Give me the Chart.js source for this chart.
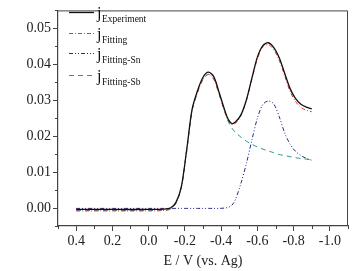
<!DOCTYPE html>
<html><head><meta charset="utf-8">
<script src="https://cdn.jsdelivr.net/npm/chart.js@4/dist/chart.umd.min.js"></script>
<style>html,body{margin:0;padding:0;background:#fff}#wrap{position:relative;width:354px;height:271px}</style>
</head><body><div id="wrap"><canvas id="c" width="354" height="271"></canvas></div>
<script>
const potentials = [0.4, 0.2, 0.0, -0.08, -0.12, -0.15, -0.18, -0.21, -0.24, -0.27, -0.30, -0.33, -0.36, -0.39, -0.42, -0.44, -0.46, -0.48, -0.51, -0.54, -0.57, -0.60, -0.63, -0.66, -0.69, -0.72, -0.75, -0.78, -0.81, -0.84, -0.87, -0.90];
const jExperiment = [-0.0004, -0.0004, -0.0004, -0.0003, 0.0000, 0.0015, 0.0058, 0.0162, 0.0275, 0.0327, 0.0364, 0.0378, 0.0365, 0.0320, 0.0272, 0.0246, 0.0235, 0.0240, 0.0260, 0.0302, 0.0362, 0.0420, 0.0452, 0.0460, 0.0447, 0.0419, 0.0376, 0.0333, 0.0305, 0.0289, 0.0281, 0.0276];
const jFitting = [-0.0008, -0.0008, -0.0008, -0.0007, -0.0003, 0.0013, 0.0056, 0.0160, 0.0272, 0.0322, 0.0358, 0.0372, 0.0358, 0.0315, 0.0268, 0.0242, 0.0232, 0.0236, 0.0258, 0.0300, 0.0358, 0.0415, 0.0448, 0.0455, 0.0441, 0.0412, 0.0369, 0.0325, 0.0297, 0.0280, 0.0272, 0.0268];
const jFittingSn = [-0.0001, -0.0001, -0.0001, -0.0001, -0.0001, -0.0001, -0.0001, -0.0001, -0.0001, -0.0001, -0.0001, -0.0001, -0.0001, -0.0001, 0.0000, 0.0002, 0.0008, 0.0025, 0.0070, 0.0125, 0.0190, 0.0250, 0.0288, 0.0298, 0.0290, 0.0255, 0.0210, 0.0178, 0.0158, 0.0146, 0.0138, 0.0133];
const jFittingSb = [-0.0007, -0.0007, -0.0007, -0.0006, -0.0003, 0.0013, 0.0056, 0.0160, 0.0272, 0.0322, 0.0358, 0.0372, 0.0358, 0.0315, 0.0268, 0.0240, 0.0222, 0.0210, 0.0197, 0.0186, 0.0177, 0.0170, 0.0164, 0.0159, 0.0154, 0.0149, 0.0146, 0.0143, 0.0140, 0.0138, 0.0136, 0.0134];
const seriesLabels = ['Experiment', 'Fitting', 'Fitting-Sn', 'Fitting-Sb'];
const xTickValues = [0.4, 0.2, 0.0, -0.2, -0.4, -0.6, -0.8, -1.0];
const xMinorValues = [0.5, 0.3, 0.1, -0.1, -0.3, -0.5, -0.7, -0.9, -1.1];
const yTickValues = [0.00, 0.01, 0.02, 0.03, 0.04, 0.05];
const yMinorValues = [-0.005, 0.005, 0.015, 0.025, 0.035, 0.045, 0.055];
const xTitle = 'E / V (vs. Ag)';

const series = [jExperiment, jFitting, jFittingSn, jFittingSb];
const colors = ['#111111', '#e03a3a', '#2a2a8c', '#2e9a86'];
const dashes = [[], [4, 2, 1, 2], [4, 2, 1, 2, 1, 2], [5, 4]];
const widths = [1.3, 1, 1, 1];
const FONT = '"Liberation Serif", "Times New Roman", serif';

const datasets = series.map((arr, i) => ({
  label: seriesLabels[i],
  data: potentials.map((e, k) => ({x: e, y: arr[k]})),
  borderColor: colors[i],
  borderDash: dashes[i],
  borderWidth: widths[i],
  pointRadius: 0,
  fill: false,
  tension: 0.3,
  order: i
}));

const framePlugin = {
  id: 'frame',
  afterDraw(chart) {
    const {ctx, chartArea: a, scales} = chart;
    ctx.save();
    ctx.strokeStyle = '#444';
    ctx.lineWidth = 1;
    ctx.beginPath();
    ctx.moveTo(a.left, a.top + 0.5); ctx.lineTo(a.right - 0.5, a.top + 0.5); ctx.lineTo(a.right - 0.5, a.bottom);
    ctx.stroke();
    ctx.beginPath();
    xMinorValues.forEach(v => {
      const px = Math.round(scales.x.getPixelForValue(v)) + 0.5;
      ctx.moveTo(px, a.bottom); ctx.lineTo(px, a.bottom + 3);
    });
    yMinorValues.forEach(v => {
      const py = Math.round(scales.y.getPixelForValue(v)) + 0.5;
      ctx.moveTo(a.left, py); ctx.lineTo(a.left - 3, py);
    });
    ctx.stroke();
    const rows = [12, 33, 53, 75];
    chart.data.datasets.forEach((ds, i) => {
      const y = rows[i];
      ctx.strokeStyle = ds.borderColor;
      ctx.lineWidth = ds.borderWidth;
      ctx.setLineDash(ds.borderDash);
      ctx.beginPath(); ctx.moveTo(69, y + 0.5); ctx.lineTo(94, y + 0.5); ctx.stroke();
      ctx.setLineDash([]);
      ctx.fillStyle = '#111';
      ctx.textBaseline = 'alphabetic';
      ctx.font = '16px ' + FONT;
      ctx.fillText('j', 97, y + 6);
      const w = ctx.measureText('j').width;
      ctx.font = '9.5px ' + FONT;
      ctx.fillText(ds.label, 97 + w + 0.5, y + 10);
    });
    ctx.restore();
  }
};

new Chart(document.getElementById('c'), {
  type: 'line',
  data: {datasets},
  options: {
    responsive: false,
    animation: false,
    layout: {padding: {top: 1, right: 6, left: 0, bottom: 0}},
    plugins: {legend: {display: false}, tooltip: {enabled: false}},
    scales: {
      x: {
        type: 'linear', reverse: true, min: -1.1, max: 0.5,
        afterBuildTicks: s => { s.ticks = xTickValues.map(v => ({value: v})); },
        afterFit: s => { s.height = 45; },
        ticks: {color: '#222', font: {family: FONT, size: 14}, padding: 2, maxRotation: 0,
          callback: v => Number(v).toFixed(1)},
        grid: {drawOnChartArea: false, drawTicks: true, tickLength: 5, color: '#444', tickColor: '#444'},
        border: {display: true, color: '#444', width: 1.2},
        title: {display: true, text: xTitle, color: '#222', font: {family: FONT, size: 14}, padding: {top: 0, bottom: 1}}
      },
      y: {
        type: 'linear', min: -0.005, max: 0.055,
        afterBuildTicks: s => { s.ticks = yTickValues.map(v => ({value: v})); },
        afterFit: s => { s.width = 58; },
        ticks: {color: '#222', font: {family: FONT, size: 14}, padding: 2,
          callback: v => Number(v).toFixed(2)},
        grid: {drawOnChartArea: false, drawTicks: true, tickLength: 5, color: '#444', tickColor: '#444'},
        border: {display: true, color: '#444', width: 1.2}
      }
    }
  },
  plugins: [framePlugin]
});
</script>
</body></html>
